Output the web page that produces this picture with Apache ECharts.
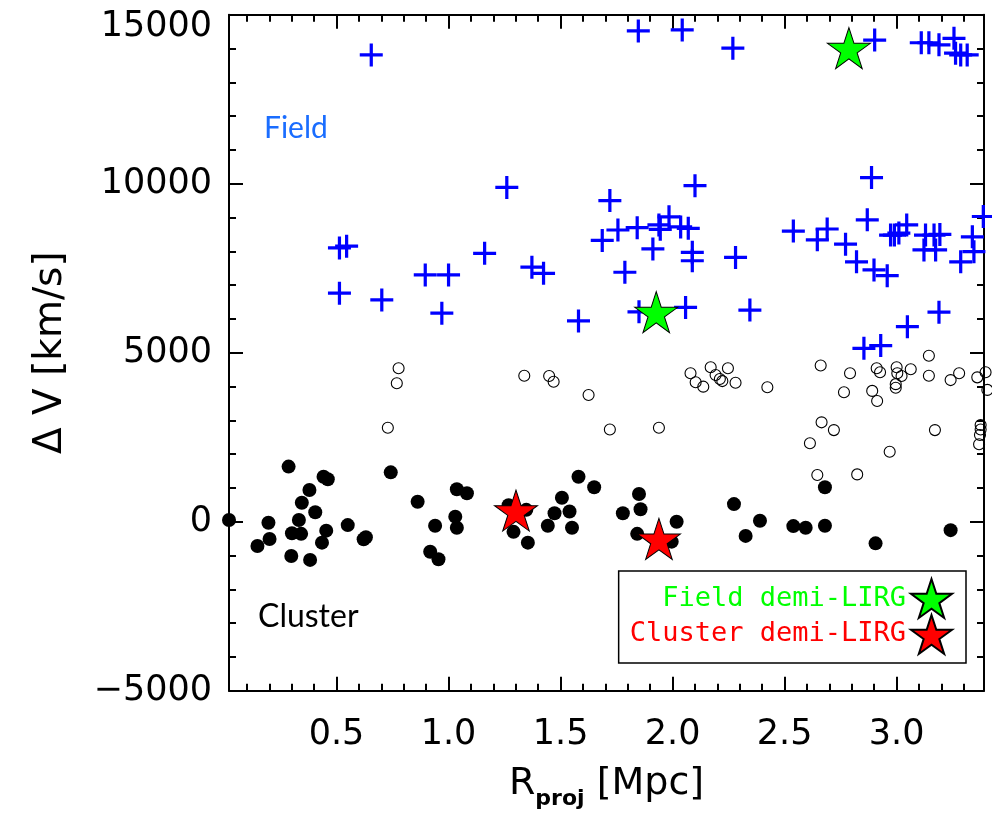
<!DOCTYPE html>
<html>
<head>
<meta charset="utf-8">
<script src="https://cdn.jsdelivr.net/npm/echarts@6/dist/echarts.min.js"></script>
<style>html,body{margin:0;padding:0;background:#fff}#c{width:992px;height:814px}</style>
</head>
<body>
<div id="c"></div>
<script>
// ---- data (R_proj [Mpc], dV [km/s]) ----
const fieldGalaxies = [
  [0.655,13810],[0.513,8100],[0.545,8150],[0.513,6760],[0.702,6560],[0.896,7300],[1.000,7300],
  [0.970,6170],[1.161,7940],[1.260,9890],[1.372,7530],[1.424,7350],[1.580,5940],[1.686,8320],
  [1.720,9500],[1.756,8630],[1.842,8700],[1.939,8780],[1.945,8650],[1.984,9020],[2.036,8720],
  [2.070,8680],[1.912,8070],[2.088,7970],[2.088,7720],[1.787,7380],[1.850,6210],[2.058,6340],
  [1.847,14520],[2.043,14550],[2.269,14010],[2.100,9940],[2.281,7820],[2.345,6260],[2.790,14050],
  [2.902,14250],[3.110,14170],[3.144,14170],[3.189,14110],[3.256,14300],[3.263,13860],[3.286,13810],
  [3.315,13810],[2.888,10180],[2.539,8600],[2.646,8340],[2.690,8660],[2.772,8210],[2.869,8930],
  [2.821,7690],[2.899,7450],[2.958,7280],[2.973,8480],[2.990,8480],[3.010,8540],[3.045,8780],
  [3.122,8040],[3.129,8480],[3.167,8480],[3.174,8040],[3.193,8500],[3.286,7690],[3.338,8430],
  [3.345,7990],[3.387,9030],[3.189,6200],[3.048,5770],[2.929,5210],[2.854,5130]
];
const nonMembers = [
  [0.777,4540],[0.769,4095],[0.729,2780],[1.338,4320],[1.449,4310],[1.469,4140],[1.625,3750],
  [1.720,2730],[1.939,2780],[2.080,4390],[2.103,4125],[2.137,3995],[2.170,4570],[2.192,4340],
  [2.211,4220],[2.222,4160],[2.247,4540],[2.281,4110],[2.423,3980],[2.661,4620],[2.665,2940],
  [2.613,2320],[2.720,2710],[2.646,1380],[2.824,1400],[2.792,4390],[2.765,3830],[2.891,3870],
  [2.913,3570],[2.911,4540],[2.926,4420],[3.000,4570],[3.003,4390],[3.022,4310],[2.996,4070],
  [2.996,3965],[3.063,4510],[2.969,2070],[3.144,4910],[3.144,4320],[3.171,2710],[3.241,4190],
  [3.279,4390],[3.360,4270],[3.397,4420],[3.405,3900],[3.375,2860],[3.375,2730],[3.372,2565],
  [3.368,2290]
];
const clusterMembers = [
  [0.020,50],[0.286,1630],[0.196,-30],[0.147,-720],[0.201,-510],[0.301,-340],[0.342,-360],
  [0.298,-1015],[0.379,940],[0.345,560],[0.332,50],[0.405,280],[0.442,1330],[0.461,1255],
  [0.454,-265],[0.435,-620],[0.382,-1130],[0.550,-100],[0.621,-520],[0.631,-460],[0.742,1460],
  [0.862,590],[0.940,-120],[0.918,-890],[0.955,-1110],[1.037,960],[1.082,840],[1.030,150],
  [1.037,-180],[1.268,490],[1.347,350],[1.290,-300],[1.354,-620],[1.443,-120],[1.473,250],
  [1.506,710],[1.540,300],[1.551,-180],[1.580,1330],[1.650,1020],[1.778,250],[1.850,820],
  [1.857,370],[1.842,-360],[1.996,-590],[2.018,0],[2.274,520],[2.326,-420],[2.390,30],
  [2.539,-130],[2.594,-180],[2.680,-120],[2.680,1020],[2.906,-640],[3.241,-250]
];
const fieldDemiLIRG = [[2.787,14010],[1.927,6200]];
const clusterDemiLIRG = [[1.301,330],[1.939,-510]];

const xMajorTicks = [0.5,1.0,1.5,2.0,2.5,3.0];
const xMinorTicks = [0.1,0.2,0.3,0.4,0.6,0.7,0.8,0.9,1.1,1.2,1.3,1.4,1.6,1.7,1.8,1.9,
                     2.1,2.2,2.3,2.4,2.6,2.7,2.8,2.9,3.1,3.2,3.3];
const xRange = [0.02, 3.39];
const yRange = [-5000, 15000];
const yStep = 5000;

// ---- styling ----
const STAR = 'path://M50,0L61.2,34.5L97.6,34.5L68.2,55.9L79.4,90.5L50,69.1L20.6,90.5L31.8,55.9L2.4,34.5L38.8,34.5Z';
const PLUS = 'path://M-1.4,-10L1.4,-10L1.4,-1.4L10,-1.4L10,1.4L1.4,1.4L1.4,10L-1.4,10L-1.4,1.4L-10,1.4L-10,-1.4L-1.4,-1.4Z';
const FONT = 'DejaVu Sans';
const lineStyle = {color:'#000', width:2};

function xAxisDef(pos, ticks, len, withLabel, withLine) {
  return {
    type:'value', position:pos, min:xRange[0], max:xRange[1],
    axisLine:{show:withLine, onZero:false, lineStyle},
    axisTick:{show:true, inside:true, length:len, customValues:ticks, lineStyle:{color:'#000', width:2}},
    axisLabel:{show:withLabel, customValues:ticks, margin:27, fontFamily:FONT, fontSize:35, color:'#000',
               formatter:v=>v.toFixed(1)},
    splitLine:{show:false}
  };
}

const chart = echarts.init(document.getElementById('c'), null, {renderer:'canvas'});
chart.setOption({
  animation:false,
  backgroundColor:'#fff',
  grid:{left:229, right:8, top:14.7, bottom:123.3, containLabel:false, outerBoundsMode:'none'},
  xAxis:[
    Object.assign(xAxisDef('bottom', xMajorTicks, 14, true, true), {
      name:'{r|R}{s|proj}{r| [Mpc]}', nameLocation:'middle', nameGap:74,
      nameTextStyle:{rich:{
        r:{fontFamily:FONT, fontSize:38, color:'#000', lineHeight:40, verticalAlign:'top'},
        s:{fontFamily:FONT, fontSize:22, fontWeight:'bold', color:'#000', lineHeight:46, verticalAlign:'bottom'}
      }}
    }),
    xAxisDef('bottom', xMinorTicks, 7, false, false),
    xAxisDef('top', xMajorTicks, 14, false, true),
    xAxisDef('top', xMinorTicks, 7, false, false)
  ],
  yAxis:[
    {type:'value', position:'left', min:yRange[0], max:yRange[1], interval:yStep,
     axisLine:{show:true, onZero:false, lineStyle},
     axisTick:{show:true, inside:true, length:14, lineStyle:{color:'#000', width:2}},
     minorTick:{show:true, splitNumber:5, length:7, lineStyle:{color:'#000', width:2}},
     axisLabel:{margin:17, fontFamily:FONT, fontSize:35, color:'#000',
       formatter:v=> v===yRange[1] ? '{t|'+v+'}' : (v<0 ? '\u2212'+Math.abs(v) : ''+v),
       rich:{t:{fontFamily:FONT, fontSize:35, color:'#000', padding:[24,0,0,0]}}},
     splitLine:{show:false},
     name:'\u0394 V [km/s]', nameLocation:'middle', nameRotate:90, nameGap:159,
     nameTextStyle:{fontFamily:FONT, fontSize:39, color:'#000'}},
    {type:'value', position:'right', min:yRange[0], max:yRange[1], interval:yStep,
     axisLine:{show:true, onZero:false, lineStyle},
     axisTick:{show:true, inside:true, length:14, lineStyle:{color:'#000', width:2}},
     minorTick:{show:true, splitNumber:5, length:7, lineStyle:{color:'#000', width:2}},
     axisLabel:{show:false}, splitLine:{show:false}}
  ],
  legend:{
    orient:'vertical', right:26, top:571, align:'right',
    itemWidth:41, itemHeight:39, itemGap:-5, padding:[7,13,8,11],
    borderColor:'#000', borderWidth:1.5, backgroundColor:'#fff', selectedMode:false,
    textStyle:{fontFamily:'DejaVu Sans Mono', fontSize:27},
    data:[
      {name:'Field demi-LIRG', textStyle:{color:'#00ff00'}},
      {name:'Cluster demi-LIRG', textStyle:{color:'#ff0000'}}
    ]
  },
  series:[
    {name:'Non-members', type:'scatter', data:nonMembers, symbol:'circle', symbolSize:11, clip:false,
     itemStyle:{color:'rgba(255,255,255,0)', borderColor:'#000', borderWidth:1.1, opacity:1}, z:2},
    {name:'Cluster', type:'scatter', data:clusterMembers, symbol:'circle', symbolSize:14, clip:false,
     itemStyle:{color:'#000', opacity:1}, z:3},
    {name:'Field', type:'scatter', data:fieldGalaxies, symbol:PLUS, symbolSize:23, clip:false,
     itemStyle:{color:'#0000ff', opacity:1}, z:4},
    {name:'Field demi-LIRG', type:'scatter', data:fieldDemiLIRG, symbol:STAR, symbolSize:[43,41], clip:false,
     itemStyle:{color:'#00ff00', borderColor:'#000', borderWidth:1, opacity:1}, z:5},
    {name:'Cluster demi-LIRG', type:'scatter', data:clusterDemiLIRG, symbol:STAR, symbolSize:[43,41], clip:false,
     itemStyle:{color:'#ff0000', borderColor:'#000', borderWidth:1, opacity:1}, z:5}
  ],
  graphic:[
    {type:'text', left:264, top:113, style:{text:'Field', fontFamily:'Lato', fontSize:30, fill:'#1a6dff'}, z:10},
    {type:'text', left:258, top:601, style:{text:'Cluster', fontFamily:'Lato', fontSize:32, fill:'#000'}, z:10}
  ]
});
</script>
</body>
</html>
